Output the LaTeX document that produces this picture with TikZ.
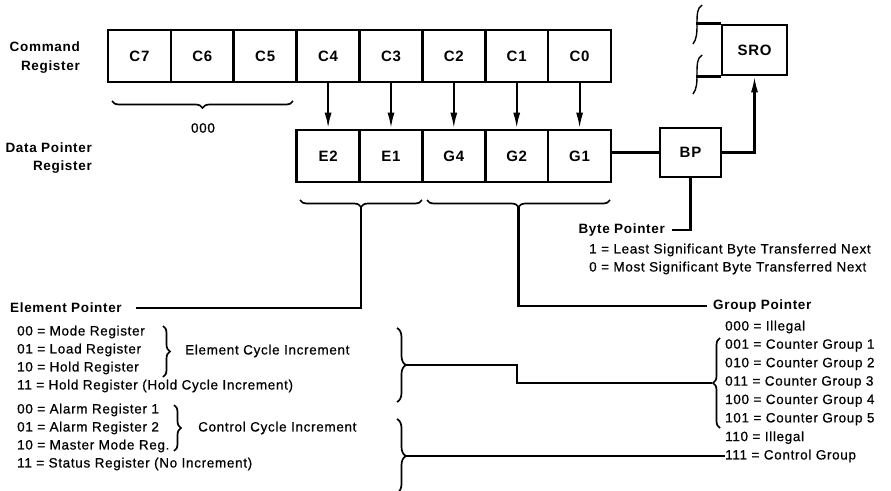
\documentclass[tikz,border=0pt]{standalone}
\usepackage{fontspec}
\setmainfont{Liberation Sans}[LetterSpace=5]
\newfontfamily\medfont{Liberation Sans}[LetterSpace=5,FakeBold=0.6]
\usetikzlibrary{arrows.meta,decorations.pathreplacing,calc}
\begin{document}
\begin{tikzpicture}[x=1pt,y=-1pt,
  cell/.style={draw,line width=2.6pt,minimum width=62.9pt,minimum height=52pt,inner sep=0pt,font=\bfseries\fontsize{15}{17}\selectfont},
  lbl/.style={font=\medfont\fontsize{13.5}{15}\selectfont,inner sep=0pt,anchor=west},
  hd/.style={font=\bfseries\fontsize{13.5}{16}\selectfont,inner sep=0pt},
  conn/.style={line width=2.3pt},
  arr/.style={line width=2.2pt,-{Latex[length=16pt,width=7pt]}},
  brc/.style={decorate,decoration={brace,amplitude=7pt},line width=1.7pt},
  bbrc/.style={decorate,decoration={brace,amplitude=9pt},line width=1.7pt}]
\useasboundingbox (0,0) rectangle (891,490);

% Command register
\node[hd,anchor=east] (cmd1) at (80,47) {Command};
\node[hd,anchor=east] (cmd2) at (80,67) {Register};
\node[cell] (c7) at (139.4,56) {C7};
\node[cell] (c6) at (202.3,56) {C6};
\node[cell] (c5) at (265.2,56) {C5};
\node[cell] (c4) at (328.1,56) {C4};
\node[cell] (c3) at (391.0,56) {C3};
\node[cell] (c2) at (453.8,56) {C2};
\node[cell] (c1) at (516.7,56) {C1};
\node[cell] (c0) at (579.6,56) {C0};

% Data pointer register
\node[hd,anchor=east] (dp1) at (92,148) {Data Pointer};
\node[hd,anchor=east] (dp2) at (92,167) {Register};
\node[cell] (e2) at (328.1,156) {E2};
\node[cell] (e1) at (391.0,156) {E1};
\node[cell] (g4) at (453.8,156) {G4};
\node[cell] (g2) at (516.7,156) {G2};
\node[cell] (g1) at (579.6,156) {G1};

\draw[arr] (c4.south) -- (e2.north);
\draw[arr] (c3.south) -- (e1.north);
\draw[arr] (c2.south) -- (g4.north);
\draw[arr] (c1.south) -- (g2.north);
\draw[arr] (c0.south) -- (g1.north);

% 000 brace
\draw[brc] (293,101) -- (112,101);
\node[font=\medfont\fontsize{13.5}{16}\selectfont,inner sep=0pt] (zero) at (203,128) {000};

% BP and SRO
\node[cell,minimum width=61pt,minimum height=49pt] (bp) at (690.5,152.5) {BP};
\node[cell,minimum width=65pt,minimum height=50pt] (sro) at (754.5,50) {SRO};
\draw[conn] (bp.west) -- (bp.west -| g1.east);
\draw[arr] (bp.east) -| (sro.south);
\draw[line width=2.6pt] (sro.north west) -- ++(-25,0);
\draw[line width=2.6pt] (sro.south west) -- ++(-25,0);
\draw[line width=1.4pt] (702,5) .. controls (697,8) and (697,15) .. (697,22) .. controls (697,32) and (697,39) .. (693,44);
\draw[line width=1.4pt] (702,55) .. controls (697,58) and (697,65) .. (697,72) .. controls (697,82) and (697,89) .. (693,94);

% Byte pointer
\node[hd,anchor=east] (bpl) at (665,230) {Byte Pointer};
\draw[conn] (bp.south) |- ([xshift=7pt]bpl.east);
\node[lbl] (b1) at (589,250) {1 = Least Significant Byte Transferred Next};
\node[lbl] (b2) at (589,268) {0 = Most Significant Byte Transferred Next};

% Element / group braces
\draw[brc] (422,200) -- (300,200);
\coordinate (etip) at (361,207);
\draw[brc] (610,200) -- (427,200);
\coordinate (gtip) at (518.5,207);

\node[hd,anchor=west] (ep) at (10,308) {Element Pointer};
\draw[conn] (etip) |- ([xshift=14pt]ep.east);
\node[hd,anchor=west] (gp) at (713,306) {Group Pointer};
\draw[conn] (gtip) |- ([xshift=-6pt]gp.west);

% Element list
\node[lbl] (l1) at (17,332) {00 = Mode Register};
\node[lbl] (l2) at (17,350) {01 = Load Register};
\node[lbl] (l3) at (17,368) {10 = Hold Register};
\node[lbl] (l4) at (17,386) {11 = Hold Register (Hold Cycle Increment)};
\node[lbl] (l5) at (17,410) {00 = Alarm Register 1};
\node[lbl] (l6) at (17,428) {01 = Alarm Register 2};
\node[lbl] (l7) at (17,446) {10 = Master Mode Reg.};
\node[lbl] (l8) at (17,464) {11 = Status Register (No Increment)};

\draw[brc] (163,326) -- (163,377);
\node[lbl] (eci) at (185,351) {Element Cycle Increment};
\draw[brc] (174,405) -- (174,451);
\node[lbl] (cci) at (198,428) {Control Cycle Increment};

\draw[bbrc] (397,328) -- (397,402);
\coordinate (btip1) at (406,365);
\draw[bbrc] (397,419) -- (397,493);
\coordinate (btip2) at (406,456);

% Group list
\node[lbl] (g0l) at (725,327) {000 = Illegal};
\node[lbl] (g1l) at (725,345.4) {001 = Counter Group 1};
\node[lbl] (g2l) at (725,363.9) {010 = Counter Group 2};
\node[lbl] (g3l) at (725,382.3) {011 = Counter Group 3};
\node[lbl] (g4l) at (725,400.7) {100 = Counter Group 4};
\node[lbl] (g5l) at (725,419.1) {101 = Counter Group 5};
\node[lbl] (g6l) at (725,437.6) {110 = Illegal};
\node[lbl] (g7l) at (725,456) {111 = Control Group};

\draw[brc] (720,428) -- (720,338);
\coordinate (lbtip) at (712,383);

\draw[conn] (btip1) -- (517,365) -- (517,383) -- (lbtip);
\draw[conn] (btip2) -- (g7l.west);
\end{tikzpicture}
\end{document}
